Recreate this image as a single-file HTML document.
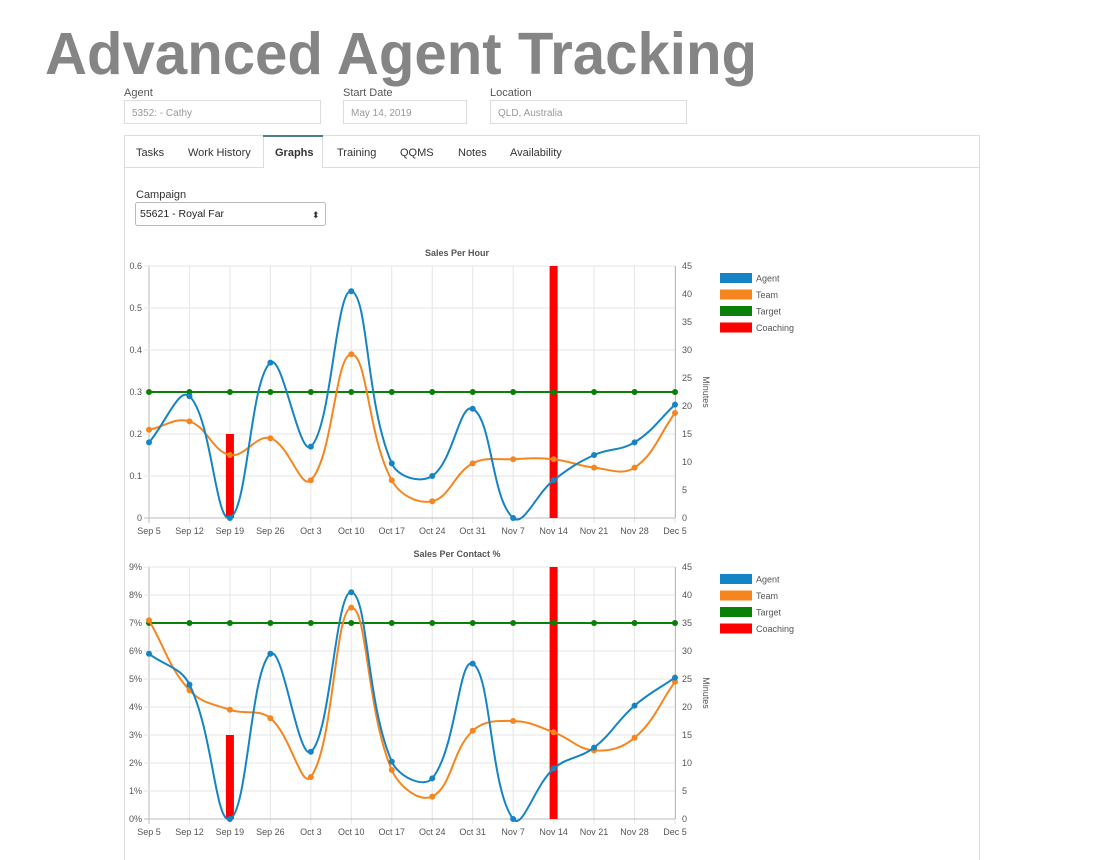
<!DOCTYPE html>
<html><head><meta charset="utf-8"><style>
html,body{margin:0;padding:0;background:#fff;}
svg{display:block;font-family:"Liberation Sans",sans-serif;}
</style></head><body>
<svg id="page" width="1098" height="860" viewBox="0 0 1098 860" xmlns="http://www.w3.org/2000/svg">
<text x="45" y="74" font-size="59" font-weight="bold" fill="#858585" textLength="712" lengthAdjust="spacingAndGlyphs">Advanced Agent Tracking</text>
<g>
<text x="124" y="96" font-size="11" fill="#555">Agent</text>
<rect x="124.5" y="100.5" width="196" height="23" fill="#fff" stroke="#ddd"/>
<text x="132" y="116" font-size="10" fill="#999">5352:  - Cathy</text>
</g>
<g>
<text x="343" y="96" font-size="11" fill="#555">Start Date</text>
<rect x="343.5" y="100.5" width="123" height="23" fill="#fff" stroke="#ddd"/>
<text x="351" y="116" font-size="10" fill="#999">May 14, 2019</text>
</g>
<g>
<text x="490" y="96" font-size="11" fill="#555">Location</text>
<rect x="490.5" y="100.5" width="196" height="23" fill="#fff" stroke="#ddd"/>
<text x="498" y="116" font-size="10" fill="#999">QLD, Australia</text>
</g>
<g>
<path d="M124.5 860 V135.5 H979.5 V860" fill="none" stroke="#ddd"/>
<line x1="124" y1="167.5" x2="263" y2="167.5" stroke="#ddd"/>
<line x1="322" y1="167.5" x2="979" y2="167.5" stroke="#ddd"/>
<path d="M263.5 168 V135.5 H322.5 V168" fill="#fff" stroke="#ddd"/>
<line x1="263" y1="136" x2="323" y2="136" stroke="#4a7c8c" stroke-width="2"/>
<text x="136" y="156" font-size="11" fill="#333">Tasks</text>
<text x="188" y="156" font-size="11" fill="#333">Work History</text>
<text x="275" y="156" font-size="11" font-weight="bold" fill="#333">Graphs</text>
<text x="337" y="156" font-size="11" fill="#333">Training</text>
<text x="400" y="156" font-size="11" fill="#333">QQMS</text>
<text x="458" y="156" font-size="11" fill="#333">Notes</text>
<text x="510" y="156" font-size="11" fill="#333">Availability</text>
</g>
<text x="136" y="198" font-size="11" fill="#333">Campaign</text>
<g>
<rect x="135.5" y="202.5" width="190" height="23" rx="2" fill="#fff" stroke="#bbb"/>
<text x="140" y="217" font-size="10.5" fill="#222">55621 - Royal Far</text>
<text x="312" y="218" font-size="9" fill="#333">⬍</text>
</g>
<g id="charts"></g>
</svg>
<script>
const categories = ["Sep 5","Sep 12","Sep 19","Sep 26","Oct 3","Oct 10","Oct 17","Oct 24","Oct 31","Nov 7","Nov 14","Nov 21","Nov 28","Dec 5"];
const sphAgent = [0.18,0.29,0,0.37,0.17,0.54,0.13,0.10,0.26,0,0.09,0.15,0.18,0.27];
const sphTeam = [0.21,0.23,0.15,0.19,0.09,0.39,0.09,0.04,0.13,0.14,0.14,0.12,0.12,0.25];
const sphTarget = [0.3,0.3,0.3,0.3,0.3,0.3,0.3,0.3,0.3,0.3,0.3,0.3,0.3,0.3];
const sphCoaching = [0,0,15,0,0,0,0,0,0,0,45,0,0,0];
const sphLeftTicks = [0,0.1,0.2,0.3,0.4,0.5,0.6];
const spcAgent = [5.9,4.8,0,5.9,2.4,8.1,2.05,1.45,5.55,0,1.8,2.55,4.05,5.05];
const spcTeam = [7.1,4.6,3.9,3.6,1.5,7.55,1.75,0.8,3.15,3.5,3.1,2.45,2.9,4.9];
const spcTarget = [7,7,7,7,7,7,7,7,7,7,7,7,7,7];
const spcCoaching = [0,0,15,0,0,0,0,0,0,0,45,0,0,0];
const spcLeftTicks = [0,1,2,3,4,5,6,7,8,9];
const rightTicks = [0,5,10,15,20,25,30,35,40,45];
const legendLabels = ["Agent","Team","Target","Coaching"];
const colors = {Agent:"#1584c4",Team:"#f5861f",Target:"#0a8008",Coaching:"#ff0000"};

const NS="http://www.w3.org/2000/svg";
const root=document.getElementById('charts');
function mk(tag,attrs,parent){const e=document.createElementNS(NS,tag);for(const k in attrs)e.setAttribute(k,attrs[k]);(parent||root).appendChild(e);return e;}

function spline(pts){
  const t=0.4;let d=`M${pts[0][0]},${pts[0][1]}`;
  const cp=pts.map((p,i)=>{
    const a=pts[Math.max(i-1,0)],c=pts[Math.min(i+1,pts.length-1)];
    const d01=Math.hypot(p[0]-a[0],p[1]-a[1]),d12=Math.hypot(c[0]-p[0],c[1]-p[1]);
    let fa=d01/(d01+d12)||0,fb=d12/(d01+d12)||0;fa*=t;fb*=t;
    return {px:p[0]-fa*(c[0]-a[0]),py:p[1]-fa*(c[1]-a[1]),nx:p[0]+fb*(c[0]-a[0]),ny:p[1]+fb*(c[1]-a[1])};
  });
  for(let i=1;i<pts.length;i++){d+=` C${cp[i-1].nx},${cp[i-1].ny} ${cp[i].px},${cp[i].py} ${pts[i][0]},${pts[i][1]}`;}
  return d;
}

function chart(name,title,top,agent,team,target,coach,leftTicks,fmt){
  const g=mk('g',{});
  
  
  const x0=149,x1=675,yT=top,yB=top+252,maxL=leftTicks[leftTicks.length-1],maxR=45;
  const xs=i=>x0+(x1-x0)*i/(categories.length-1);
  const yl=v=>yB-(yB-yT)*v/maxL;
  const yr=v=>yB-(yB-yT)*v/maxR;
  const tt=mk('text',{x:457,y:top-10,'font-size':9,'font-weight':'bold','text-anchor':'middle',fill:'#555'},g);tt.textContent=title;
  
  
  categories.forEach((c,i)=>{
    mk('line',{x1:xs(i),x2:xs(i),y1:yT,y2:yB+5,stroke:i==0?'#bbb':'#e6e6e6'},g);
    const t=mk('text',{x:xs(i),y:yB+16,'font-size':9,'text-anchor':'middle',fill:'#555'},g);t.textContent=c;
    
    
  });
  leftTicks.forEach(v=>{
    mk('line',{x1:x0-5,x2:x1,y1:yl(v),y2:yl(v),stroke:v==0?'#bbb':'#e6e6e6'},g);
    const t=mk('text',{x:142,y:yl(v)+3,'font-size':9,'text-anchor':'end',fill:'#555'},g);t.textContent=fmt(v);
    
    
  });
  rightTicks.forEach(v=>{
    const t=mk('text',{x:682,y:yr(v)+3,'font-size':9,fill:'#555'},g);t.textContent=v;
    
    
  });
  mk('line',{x1:x1+0.5,x2:x1+0.5,y1:yT,y2:yB,stroke:'#bbb'},g);
  const mt=mk('text',{x:703,y:(yT+yB)/2,'font-size':9,fill:'#555','text-anchor':'middle',transform:`rotate(90 703 ${(yT+yB)/2})`},g);mt.textContent='Minutes';
  
  
  coach.forEach((v,i)=>{ if(v>0){
    const b=mk('rect',{x:xs(i)-4,y:yr(v),width:8,height:yB-yr(v),fill:colors.Coaching},g);
    
    
  }});
  const series=[['Target',target],['Team',team],['Agent',agent]];
  series.forEach(([n,vals])=>{
    const pts=vals.map((v,i)=>[xs(i),yl(v)]);
    const p=mk('path',{d:spline(pts),fill:'none',stroke:colors[n],'stroke-width':2},g);
    
    
    pts.forEach(q=>{const c=mk('circle',{cx:q[0],cy:q[1],r:3,fill:colors[n]},g);
      
      });
  });
  legendLabels.forEach((l,k)=>{
    const y=top+7+k*16.5;
    const r=mk('rect',{x:720,y:y,width:32,height:10,fill:colors[l]},g);
    
    
    const t=mk('text',{x:756,y:y+8.5,'font-size':9,fill:'#555'},g);t.textContent=l;
    
    
  });
}
chart('sales-per-hour-chart','Sales Per Hour',266,sphAgent,sphTeam,sphTarget,sphCoaching,sphLeftTicks,v=>String(v));
chart('sales-per-contact-chart','Sales Per Contact %',567,spcAgent,spcTeam,spcTarget,spcCoaching,spcLeftTicks,v=>v+'%');
</script>
</body></html>
